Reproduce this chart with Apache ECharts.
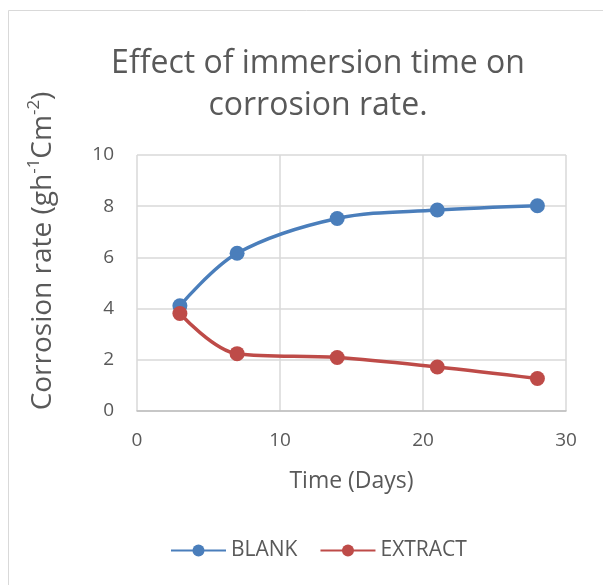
<!DOCTYPE html>
<html><head><meta charset="utf-8">
<script src="https://cdn.jsdelivr.net/npm/echarts@6/dist/echarts.min.js"></script>
<style>html,body{margin:0;padding:0;background:#fff}#c{width:603px;height:585px}</style>
</head><body><div id="c"></div>
<script>
const days = [3, 7, 14, 21, 28];
const blank = [4.11, 6.16, 7.52, 7.85, 8.02];
const extract = [3.81, 2.24, 2.09, 1.72, 1.27];
const xTicks = [0, 10, 20, 30];
const yTicks = [0, 2, 4, 6, 8, 10];

const chart = echarts.init(document.getElementById('c'));
const font = '"Open Sans", "Noto Sans", sans-serif';
const txt = '#595959';
chart.setOption({
  backgroundColor: '#fff',
  animation: false,
  title: {
    text: 'Effect of immersion time on\ncorrosion rate.',
    left: 313, top: 38, textAlign: 'center',
    textStyle: { fontFamily: font, fontSize: 32, fontWeight: 'normal', color: txt, lineHeight: 42 }
  },
  graphic: [
    { type: 'rect', shape: { x: 8.5, y: 10.5, width: 620, height: 600 }, style: { fill: 'none', stroke: '#d9d9d9', lineWidth: 1 }, silent: true },
    { type: 'text', x: 43, y: 251, rotation: Math.PI / 2,
      style: {
        text: '{a|Corrosion rate (gh}{s|-1}{a|Cm}{s|-2}{a|)}',
        align: 'center', verticalAlign: 'middle',
        rich: {
          a: { fontFamily: font, fontSize: 28, fill: txt, lineHeight: 35 },
          s: { fontFamily: font, fontSize: 17, fill: txt, lineHeight: 35, verticalAlign: 'top' }
        }
      }
    }
  ],
  grid: { left: 137, right: 37, top: 155, bottom: 174 },
  xAxis: {
    type: 'value', min: xTicks[0], max: xTicks[xTicks.length - 1], interval: 10,
    name: 'Time (Days)', nameLocation: 'middle', nameGap: 59,
    nameTextStyle: { fontFamily: font, fontSize: 23, color: txt },
    axisLine: { show: true, lineStyle: { color: '#bfbfbf', width: 1.5 } },
    axisTick: { show: false },
    axisLabel: { fontFamily: font, fontSize: 19, color: txt, margin: 20 },
    splitLine: { show: true, lineStyle: { color: '#d9d9d9', width: 1.5 } }
  },
  yAxis: {
    type: 'value', min: yTicks[0], max: yTicks[yTicks.length - 1], interval: 2,
    axisLine: { show: false },
    axisTick: { show: false },
    axisLabel: { fontFamily: font, fontSize: 19, color: txt, margin: 23 },
    splitLine: { show: true, lineStyle: { color: '#d9d9d9', width: 1.5 } }
  },
  legend: {
    bottom: 19, left: 165, itemWidth: 55, itemHeight: 15, itemGap: 22,
    textStyle: { fontFamily: font, fontSize: 21, color: txt },
    data: ['BLANK', 'EXTRACT']
  },
  series: [
    { name: 'BLANK', type: 'line', smooth: 0.35, data: days.map((d, i) => [d, blank[i]]),
      symbol: 'circle', symbolSize: 15,
      lineStyle: { color: '#4a7ebb', width: 3.5 }, itemStyle: { color: '#4a7ebb' } },
    { name: 'EXTRACT', type: 'line', smooth: 0.35, data: days.map((d, i) => [d, extract[i]]),
      symbol: 'circle', symbolSize: 15,
      lineStyle: { color: '#be4b48', width: 3.5 }, itemStyle: { color: '#be4b48' } }
  ]
});
</script></body></html>
